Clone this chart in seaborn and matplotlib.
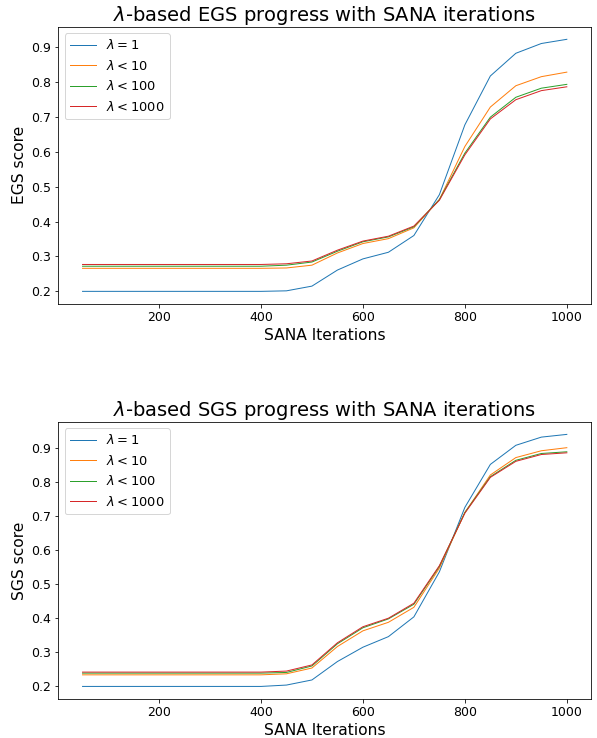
import matplotlib
matplotlib.use('Agg')
import matplotlib.pyplot as plt
import seaborn as sns

# SANA iteration checkpoints
iterations = [50, 100, 150, 200, 250, 300, 350, 400, 450, 500,
              550, 600, 650, 700, 750, 800, 850, 900, 950, 1000]

labels = [r'$\lambda = 1$', r'$\lambda < 10$', r'$\lambda < 100$', r'$\lambda < 1000$']

# EGS scores
egs_l1 = [0.200, 0.200, 0.200, 0.200, 0.200, 0.200, 0.200, 0.200, 0.2015, 0.215,
          0.261, 0.293, 0.312, 0.360, 0.477, 0.677, 0.817, 0.882, 0.910, 0.922]
egs_l10 = [0.266, 0.266, 0.266, 0.266, 0.266, 0.266, 0.266, 0.266, 0.267, 0.275,
           0.310, 0.337, 0.351, 0.382, 0.463, 0.615, 0.728, 0.789, 0.815, 0.828]
egs_l100 = [0.272, 0.272, 0.272, 0.272, 0.272, 0.272, 0.272, 0.272, 0.275, 0.284,
            0.315, 0.342, 0.356, 0.385, 0.463, 0.596, 0.699, 0.756, 0.782, 0.793]
egs_l1000 = [0.277, 0.277, 0.277, 0.277, 0.277, 0.277, 0.277, 0.277, 0.279, 0.287,
             0.318, 0.344, 0.358, 0.387, 0.461, 0.591, 0.694, 0.749, 0.775, 0.786]

# SGS scores
sgs_l1 = [0.200, 0.200, 0.200, 0.200, 0.200, 0.200, 0.200, 0.200, 0.204, 0.219,
          0.273, 0.315, 0.346, 0.404, 0.536, 0.725, 0.851, 0.907, 0.931, 0.939]
sgs_l10 = [0.234, 0.234, 0.234, 0.234, 0.234, 0.234, 0.234, 0.234, 0.237, 0.254,
           0.317, 0.363, 0.388, 0.432, 0.547, 0.710, 0.820, 0.871, 0.891, 0.900]
sgs_l100 = [0.239, 0.239, 0.239, 0.239, 0.239, 0.239, 0.239, 0.239, 0.241, 0.260,
            0.325, 0.372, 0.398, 0.441, 0.552, 0.710, 0.815, 0.863, 0.883, 0.888]
sgs_l1000 = [0.242, 0.242, 0.242, 0.242, 0.242, 0.242, 0.242, 0.242, 0.245, 0.263,
             0.328, 0.375, 0.400, 0.444, 0.554, 0.708, 0.813, 0.860, 0.880, 0.885]

colors = sns.color_palette('tab10', 4)

fig, axes = plt.subplots(2, 1, figsize=(597 / 72, 738 / 72), dpi=72)
fig.subplots_adjust(left=0.0977, right=0.99, top=0.9638, bottom=0.0528, hspace=0.425)

panels = [
    (axes[0], [egs_l1, egs_l10, egs_l100, egs_l1000], 'EGS'),
    (axes[1], [sgs_l1, sgs_l10, sgs_l100, sgs_l1000], 'SGS'),
]

for ax, series, name in panels:
    for vals, lab, col in zip(series, labels, colors):
        sns.lineplot(x=iterations, y=vals, color=col, linewidth=1.0, label=lab, ax=ax)
    ax.set_title(r'$\lambda$-based ' + name + ' progress with SANA iterations', fontsize=19.5)
    ax.set_xlabel('SANA Iterations', fontsize=15.5)
    ax.set_ylabel(name + ' score', fontsize=15.5)
    ax.tick_params(labelsize=12.5)
    ax.legend(loc='upper left', fontsize=13)

fig.savefig('out.png', dpi=72)
